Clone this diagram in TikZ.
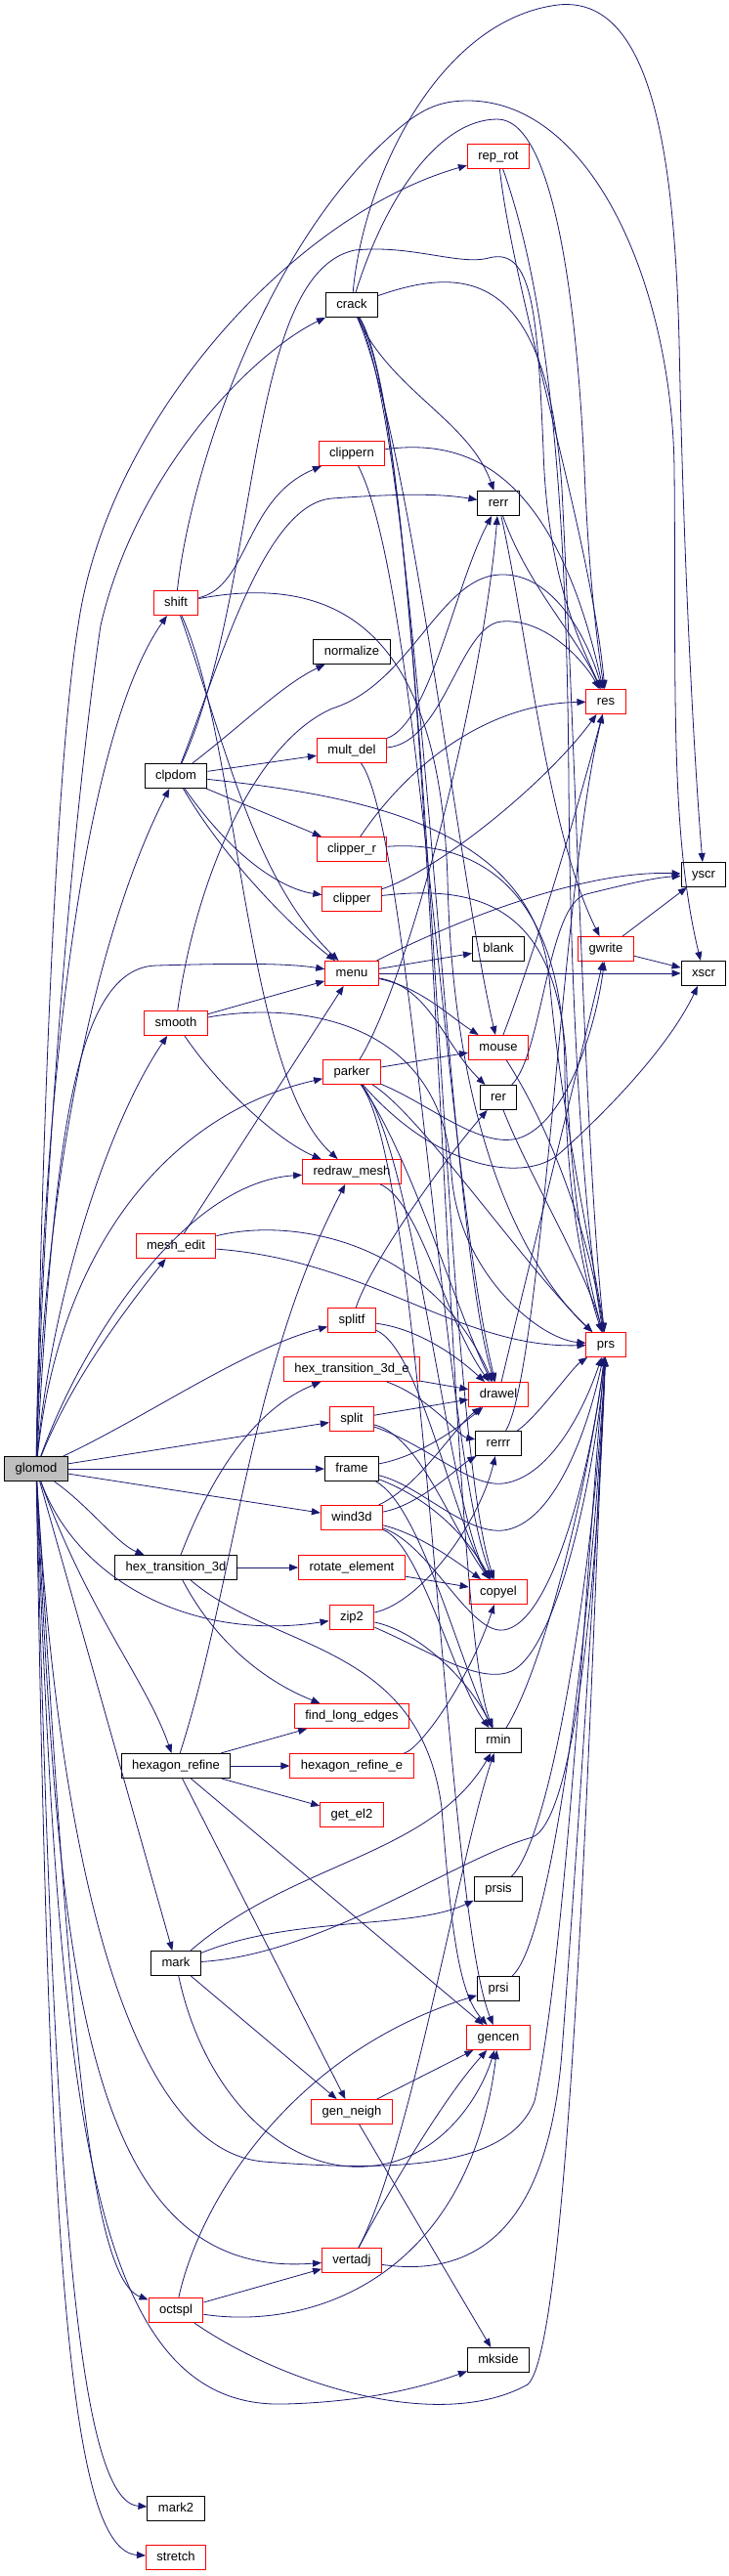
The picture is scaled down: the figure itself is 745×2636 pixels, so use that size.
\documentclass[tikz,border=0pt]{standalone}
\usepackage{fontspec}
\setmainfont{Liberation Sans}
\usepackage{xcolor}
\usepackage{tikz}
\usetikzlibrary{arrows.meta}
\definecolor{callblue}{HTML}{191970}

\begin{document}
\begin{tikzpicture}[
    x=1pt, y=-1pt,
    fn/.style={rectangle, draw=black, line width=1pt, fill=white, minimum height=25pt, inner xsep=11pt, inner ysep=0pt, text height=9.5pt, text depth=2.8pt, font=\fontsize{13}{15}\selectfont},
    fnred/.style={fn, draw=red},
    root/.style={fn, fill=black!25},
    call/.style={-{Triangle[length=9pt,width=7pt]}, draw=callblue, line width=0.8pt}
  ]
  \useasboundingbox (0,0) rectangle (745,2636);

  % root and first column
  \node[root] (glomod) at (37,1503) {glomod};
  \node[fnred] (shift) at (180,617) {shift};
  \node[fn] (clpdom) at (180,794) {clpdom};
  \node[fnred] (smooth) at (180,1047) {smooth};
  \node[fnred] (mesh_edit) at (180,1275) {mesh\_edit};
  \node[fn] (hex_transition_3d) at (180,1604) {hex\_transition\_3d};
  \node[fn] (hexagon_refine) at (180,1807) {hexagon\_refine};
  \node[fn] (mark) at (180,2009) {mark};
  \node[fnred] (octspl) at (180,2364) {octspl};
  \node[fn] (mark2) at (180,2567) {mark2};
  \node[fnred] (stretch) at (180,2617) {stretch};

  % second column
  \node[fn] (crack) at (360,312) {crack};
  \node[fnred] (clippern) at (360,464) {clippern};
  \node[fn] (normalize) at (360,667) {normalize};
  \node[fnred] (mult_del) at (360,768) {mult\_del};
  \node[fnred] (clipper_r) at (360,869) {clipper\_r};
  \node[fnred] (clipper) at (360,920) {clipper};
  \node[fnred] (menu) at (360,996) {menu};
  \node[fnred] (parker) at (360,1097) {parker};
  \node[fnred] (redraw_mesh) at (360,1199) {redraw\_mesh};
  \node[fnred] (splitf) at (360,1351) {splitf};
  \node[fnred] (hex_transition_3d_e) at (360,1401) {hex\_transition\_3d\_e};
  \node[fnred] (split) at (360,1452) {split};
  \node[fn] (frame) at (360,1503) {frame};
  \node[fnred] (wind3d) at (360,1553) {wind3d};
  \node[fnred] (rotate_element) at (360,1604) {rotate\_element};
  \node[fnred] (zip2) at (360,1655) {zip2};
  \node[fnred] (find_long_edges) at (360,1756) {find\_long\_edges};
  \node[fnred] (hexagon_refine_e) at (360,1807) {hexagon\_refine\_e};
  \node[fnred] (get_el2) at (360,1857) {get\_el2};
  \node[fnred] (gen_neigh) at (360,2161) {gen\_neigh};
  \node[fnred] (vertadj) at (360,2313) {vertadj};

  % third column
  \node[fnred] (rep_rot) at (510,160) {rep\_rot};
  \node[fn] (rerr) at (510,515) {rerr};
  \node[fn] (blank) at (510,971) {blank};
  \node[fnred] (mouse) at (510,1072) {mouse};
  \node[fn] (rer) at (510,1123) {rer};
  \node[fnred] (drawel) at (510,1427) {drawel};
  \node[fn] (rerrr) at (510,1477) {rerrr};
  \node[fnred] (copyel) at (510,1629) {copyel};
  \node[fn] (rmin) at (510,1781) {rmin};
  \node[fn] (prsis) at (510,1933) {prsis};
  \node[fn] (prsi) at (510,2035) {prsi};
  \node[fnred] (gencen) at (510,2085) {gencen};
  \node[fn] (mkside) at (510,2415) {mkside};

  % last columns
  \node[fnred] (res) at (620,718) {res};
  \node[fnred] (gwrite) at (620,971) {gwrite};
  \node[fnred] (prs) at (620,1376) {prs};
  \node[fn] (yscr) at (720,895) {yscr};
  \node[fn] (xscr) at (720,996) {xscr};

  % calls from glomod, upwards
  \draw[call] (glomod) .. controls (42,1150) and (80,760) .. (shift);
  \draw[call] (glomod) .. controls (46,1200) and (100,950) .. (clpdom);
  \draw[call] (glomod) .. controls (52,1330) and (110,1150) .. (smooth);
  \draw[call] (glomod) .. controls (70,1420) and (120,1350) .. (mesh_edit);
  \draw[call] (glomod) .. controls (55,1200) and (70,990) .. (160,988) .. controls (230,986) and (290,985) .. (menu);
  \draw[call] (glomod) .. controls (60,1280) and (170,1140) .. (parker);
  \draw[call] (glomod) .. controls (85,1370) and (190,1210) .. (redraw_mesh);
  \draw[call] (glomod) .. controls (44,1100) and (60,760) .. (80,640) .. controls (110,430) and (300,220) .. (rep_rot);
  \draw[call] (glomod) .. controls (48,1100) and (85,760) .. (103,640) .. controls (140,480) and (260,360) .. (crack);
  \draw[call] (glomod) .. controls (150,1450) and (250,1380) .. (splitf);
  \draw[call] (glomod) -- (split);
  \draw[call] (glomod) -- (frame);
  \draw[call] (glomod) -- (wind3d);
  \draw[call] (glomod) .. controls (90,1540) and (120,1580) .. (hex_transition_3d);
  \draw[call] (glomod) .. controls (80,1620) and (200,1680) .. (zip2);

  % calls from glomod, downwards
  \draw[call] (glomod) .. controls (90,1650) and (150,1720) .. (hexagon_refine);
  \draw[call] (glomod) -- (mark);
  \draw[call] (glomod) .. controls (60,2000) and (80,2335) .. (vertadj);
  \draw[call] (glomod) .. controls (70,2050) and (90,2330) .. (octspl);
  \draw[call] (glomod) .. controls (60,2150) and (90,2465) .. (290,2460) .. controls (380,2458) and (440,2440) .. (mkside);
  \draw[call] (glomod) .. controls (55,2250) and (80,2560) .. (mark2);
  \draw[call] (glomod) .. controls (50,2300) and (70,2610) .. (stretch);
  \draw[call] (glomod) .. controls (60,1900) and (130,2200) .. (270,2212) .. controls (400,2222) and (520,2220) .. (547,2150) .. controls (580,2000) and (600,1600) .. (prs);

  % crack and rep_rot
  \draw[call] (crack) .. controls (372,180) and (450,20) .. (571,5) .. controls (665,-5) and (690,150) .. (695,350) .. controls (700,600) and (712,800) .. (yscr);
  \draw[call] (crack) .. controls (395,200) and (450,122) .. (509,122) .. controls (565,122) and (590,300) .. (598,480) .. controls (602,580) and (610,650) .. (res);
  \draw[call] (crack) .. controls (480,270) and (560,280) .. (575,500) .. controls (590,800) and (600,1200) .. (prs);
  \draw[call] (crack) .. controls (400,400) and (480,430) .. (rerr);
  \draw[call] (crack) .. controls (420,450) and (470,900) .. (mouse);
  \draw[call] (crack) .. controls (430,450) and (455,1250) .. (drawel);
  \draw[call] (crack) .. controls (440,450) and (450,1450) .. (copyel);
  \draw[call] (crack) .. controls (445,450) and (455,1650) .. (rmin);
  \draw[call] (rep_rot) .. controls (525,300) and (605,550) .. (res);
  \draw[call] (rep_rot) .. controls (560,300) and (580,500) .. (582,800) .. controls (584,1100) and (605,1300) .. (prs);

  % shift
  \draw[call] (shift) .. controls (255,600) and (250,510) .. (clippern);
  \draw[call] (shift) .. controls (195,480) and (270,260) .. (393,145) .. controls (430,110) and (450,103) .. (480,103) .. controls (610,105) and (688,300) .. (690,480) .. controls (692,700) and (685,850) .. (xscr);
  \draw[call] (shift) .. controls (230,760) and (260,900) .. (menu);
  \draw[call] (shift) .. controls (245,760) and (250,1100) .. (redraw_mesh);
  \draw[call] (shift) .. controls (350,585) and (450,650) .. (458,900) .. controls (465,1200) and (560,1320) .. (prs);

  % clpdom
  \draw[call] (clpdom) .. controls (250,740) and (290,700) .. (normalize);
  \draw[call] (clpdom) -- (mult_del);
  \draw[call] (clpdom) -- (clipper_r);
  \draw[call] (clpdom) .. controls (240,880) and (290,910) .. (clipper);
  \draw[call] (clpdom) .. controls (230,880) and (300,950) .. (menu);
  \draw[call] (clpdom) .. controls (225,680) and (270,515) .. (340,510) .. controls (410,505) and (450,505) .. (rerr);
  \draw[call] (clpdom) .. controls (268,600) and (250,280) .. (363,256) .. controls (420,250) and (470,272) .. (500,264) .. controls (545,252) and (550,320) .. (556,460) .. controls (560,600) and (600,670) .. (res);
  \draw[call] (clpdom) .. controls (380,815) and (545,850) .. (562,1000) .. controls (575,1150) and (610,1300) .. (prs);

  % smooth and mesh_edit
  \draw[call] (smooth) -- (menu);
  \draw[call] (smooth) .. controls (230,1120) and (290,1170) .. (redraw_mesh);
  \draw[call] (smooth) .. controls (200,900) and (260,760) .. (340,725) .. controls (420,700) and (450,590) .. (512,588) .. controls (565,586) and (600,650) .. (res);
  \draw[call] (smooth) .. controls (300,1025) and (452,1040) .. (462,1200) .. controls (468,1300) and (550,1370) .. (prs);
  \draw[call] (mesh_edit) -- (menu);
  \draw[call] (mesh_edit) .. controls (300,1245) and (440,1270) .. (drawel);
  \draw[call] (mesh_edit) .. controls (380,1290) and (470,1380) .. (prs);

  % hex_transition_3d and hexagon_refine
  \draw[call] (hex_transition_3d) .. controls (220,1500) and (265,1440) .. (hex_transition_3d_e);
  \draw[call] (hex_transition_3d) -- (rotate_element);
  \draw[call] (hex_transition_3d) .. controls (220,1680) and (270,1720) .. (find_long_edges);
  \draw[call] (hex_transition_3d) .. controls (280,1690) and (430,1680) .. (452,1850) .. controls (462,1980) and (470,2040) .. (gencen);
  \draw[call] (hexagon_refine) -- (find_long_edges);
  \draw[call] (hexagon_refine) -- (hexagon_refine_e);
  \draw[call] (hexagon_refine) -- (get_el2);
  \draw[call] (hexagon_refine) -- (gen_neigh);
  \draw[call] (hexagon_refine) -- (gencen);
  \draw[call] (hexagon_refine) .. controls (240,1620) and (255,1400) .. (redraw_mesh);

  % mark, gen_neigh, octspl, vertadj
  \draw[call] (mark) .. controls (300,1905) and (440,1900) .. (rmin);
  \draw[call] (mark) .. controls (300,1960) and (420,1975) .. (prsis);
  \draw[call] (mark) .. controls (330,2000) and (470,1900) .. (545,1880) .. controls (590,1860) and (612,1600) .. (prs);
  \draw[call] (mark) -- (gen_neigh);
  \draw[call] (mark) .. controls (210,2150) and (300,2232) .. (390,2215) .. controls (450,2205) and (490,2150) .. (gencen);
  \draw[call] (gen_neigh) -- (gencen);
  \draw[call] (gen_neigh) -- (mkside);
  \draw[call] (octspl) -- (vertadj);
  \draw[call] (octspl) .. controls (205,2250) and (300,2100) .. (prsi);
  \draw[call] (octspl) .. controls (320,2385) and (480,2330) .. (gencen);
  \draw[call] (octspl) .. controls (290,2440) and (450,2490) .. (540,2440) .. controls (585,2400) and (605,1700) .. (prs);
  \draw[call] (vertadj) .. controls (420,2200) and (470,1900) .. (rmin);
  \draw[call] (vertadj) .. controls (410,2220) and (460,2140) .. (gencen);
  \draw[call] (vertadj) .. controls (480,2330) and (560,2290) .. (575,2100) .. controls (590,1900) and (610,1600) .. (prs);

  % clippern, mult_del, clipper_r, clipper
  \draw[call] (clippern) .. controls (470,450) and (565,470) .. (res);
  \draw[call] (clippern) .. controls (430,600) and (455,1200) .. (drawel);
  \draw[call] (mult_del) .. controls (440,740) and (465,600) .. (rerr);
  \draw[call] (mult_del) .. controls (455,760) and (470,640) .. (513,636) .. controls (560,632) and (600,680) .. (res);
  \draw[call] (mult_del) .. controls (420,850) and (455,1500) .. (copyel);
  \draw[call] (clipper_r) .. controls (420,780) and (500,720) .. (res);
  \draw[call] (clipper_r) .. controls (480,860) and (578,900) .. (578,1100) .. controls (580,1250) and (605,1330) .. (prs);
  \draw[call] (clipper) .. controls (450,890) and (560,800) .. (res);
  \draw[call] (clipper) .. controls (490,905) and (575,925) .. (580,1100) .. controls (585,1250) and (608,1330) .. (prs);

  % menu and parker
  \draw[call] (menu) -- (blank);
  \draw[call] (menu) -- (xscr);
  \draw[call] (menu) .. controls (470,940) and (600,890) .. (yscr);
  \draw[call] (menu) .. controls (430,1010) and (460,1040) .. (mouse);
  \draw[call] (menu) .. controls (440,1010) and (455,1070) .. (rer);
  \draw[call] (parker) -- (mouse);
  \draw[call] (parker) .. controls (420,1000) and (495,700) .. (rerr);
  \draw[call] (parker) .. controls (450,1200) and (540,1210) .. (573,1180) .. controls (640,1120) and (690,1060) .. (xscr);
  \draw[call] (parker) .. controls (440,1130) and (490,1175) .. (530,1165) .. controls (580,1150) and (610,1050) .. (gwrite);
  \draw[call] (parker) .. controls (430,1140) and (540,1300) .. (prs);
  \draw[call] (parker) .. controls (420,1180) and (470,1350) .. (drawel);
  \draw[call] (parker) .. controls (425,1180) and (460,1550) .. (copyel);
  \draw[call] (parker) .. controls (435,1200) and (455,1950) .. (gencen);
  \draw[call] (redraw_mesh) .. controls (430,1230) and (455,1350) .. (drawel);

  % splitf down to hexagon_refine_e
  \draw[call] (splitf) .. controls (380,1290) and (460,1180) .. (rer);
  \draw[call] (splitf) .. controls (430,1360) and (470,1390) .. (drawel);
  \draw[call] (splitf) .. controls (430,1380) and (465,1560) .. (copyel);
  \draw[call] (hex_transition_3d_e) -- (drawel);
  \draw[call] (hex_transition_3d_e) .. controls (440,1430) and (470,1470) .. (rerrr);
  \draw[call] (split) -- (drawel);
  \draw[call] (split) .. controls (430,1470) and (460,1560) .. (copyel);
  \draw[call] (split) .. controls (440,1480) and (480,1522) .. (515,1518) .. controls (560,1512) and (595,1450) .. (prs);
  \draw[call] (frame) .. controls (430,1490) and (470,1460) .. (drawel);
  \draw[call] (frame) .. controls (430,1530) and (470,1560) .. (copyel);
  \draw[call] (frame) .. controls (430,1520) and (475,1570) .. (515,1566) .. controls (565,1560) and (600,1470) .. (prs);
  \draw[call] (frame) .. controls (430,1540) and (470,1700) .. (rmin);
  \draw[call] (wind3d) .. controls (430,1540) and (470,1500) .. (rerrr);
  \draw[call] (wind3d) .. controls (430,1520) and (465,1460) .. (drawel);
  \draw[call] (wind3d) .. controls (430,1570) and (470,1600) .. (copyel);
  \draw[call] (wind3d) .. controls (440,1580) and (480,1672) .. (515,1668) .. controls (565,1662) and (605,1500) .. (prs);
  \draw[call] (wind3d) .. controls (430,1580) and (465,1720) .. (rmin);
  \draw[call] (zip2) .. controls (430,1640) and (490,1560) .. (rerrr);
  \draw[call] (zip2) .. controls (430,1670) and (480,1720) .. (rmin);
  \draw[call] (zip2) .. controls (440,1690) and (485,1720) .. (518,1712) .. controls (570,1700) and (610,1500) .. (prs);
  \draw[call] (rotate_element) -- (copyel);
  \draw[call] (hexagon_refine_e) .. controls (430,1790) and (480,1720) .. (copyel);

  % third column to the right
  \draw[call] (rerr) .. controls (540,600) and (590,650) .. (res);
  \draw[call] (rerr) .. controls (540,650) and (560,850) .. (gwrite);
  \draw[call] (mouse) .. controls (545,980) and (585,850) .. (res);
  \draw[call] (mouse) .. controls (560,1150) and (600,1250) .. (prs);
  \draw[call] (rer) .. controls (555,1080) and (560,925) .. (600,915) .. controls (640,905) and (670,898) .. (yscr);
  \draw[call] (rer) .. controls (540,1200) and (600,1300) .. (prs);
  \draw[call] (drawel) .. controls (540,1300) and (590,1100) .. (gwrite);
  \draw[call] (rerrr) .. controls (550,1450) and (585,1400) .. (prs);
  \draw[call] (rerrr) .. controls (555,1400) and (575,900) .. (res);
  \draw[call] (rmin) .. controls (560,1700) and (605,1500) .. (prs);
  \draw[call] (prsis) .. controls (565,1880) and (608,1600) .. (prs);
  \draw[call] (prsi) .. controls (570,1980) and (610,1600) .. (prs);
  \draw[call] (gwrite) -- (yscr);
  \draw[call] (gwrite) -- (xscr);
\end{tikzpicture}
\end{document}
